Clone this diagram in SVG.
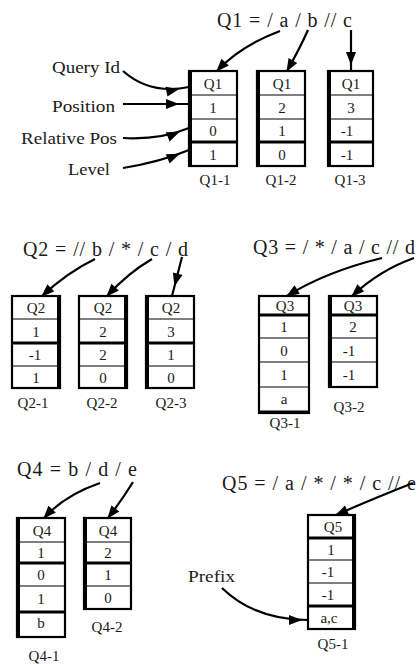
<svg xmlns="http://www.w3.org/2000/svg" width="417" height="664" viewBox="0 0 417 664" font-family="'Liberation Serif', 'DejaVu Serif', 'Times New Roman', serif">
<style>
text{font-family:'Liberation Serif','DejaVu Serif','Times New Roman',serif;fill:#1a1a1a}
.ti{font-size:20px}
.lg{font-size:17px}
.v{font-size:15px;text-anchor:middle}
.lb{font-size:15px;text-anchor:middle}
.box{fill:#fff;stroke:#000;stroke-width:2.2}
.sep{stroke:#000;stroke-width:1.2}
.sk{stroke:#000;stroke-width:3.2}
.sd{stroke:#000;stroke-width:4}
#connectors path{fill:none;stroke:#000;stroke-width:2.2}
</style>
<defs>
<marker id="ah" markerUnits="userSpaceOnUse" markerWidth="14" markerHeight="10" refX="12" refY="5" orient="auto" overflow="visible"><path d="M0,0 L13,5 L0,10 z"/></marker>
<marker id="ah6" markerUnits="userSpaceOnUse" markerWidth="20" markerHeight="10" refX="19" refY="5" orient="auto" overflow="visible"><path d="M0,0 L13,5 L0,10 z"/></marker>
<marker id="ah10" markerUnits="userSpaceOnUse" markerWidth="24" markerHeight="10" refX="23" refY="5" orient="auto" overflow="visible"><path d="M0,0 L13,5 L0,10 z"/></marker>
</defs>
<rect width="417" height="664" fill="#fff"/>

<!-- titles -->
<g id="q1-title"><text class="ti" x="217" y="27" textLength="135" lengthAdjust="spacing">Q1 = / a / b // c</text></g>
<g id="q2-title"><text class="ti" x="23" y="256" textLength="165" lengthAdjust="spacing">Q2 = // b / * / c / d</text></g>
<g id="q3-title"><text class="ti" x="253" y="254" textLength="162" lengthAdjust="spacing">Q3 = / * / a / c // d</text></g>
<g id="q4-title"><text class="ti" x="17" y="476" textLength="120" lengthAdjust="spacing">Q4 = b / d / e</text></g>
<g id="q5-title"><text class="ti" x="222" y="490" textLength="194" lengthAdjust="spacing">Q5 = / a / * / * / c // e</text></g>

<!-- legend labels -->
<g id="lbl-queryid"><text class="lg" x="52" y="73" textLength="68" lengthAdjust="spacingAndGlyphs">Query Id</text></g>
<g id="lbl-position"><text class="lg" x="52" y="112" textLength="63" lengthAdjust="spacingAndGlyphs">Position</text></g>
<g id="lbl-relpos"><text class="lg" x="21" y="144" textLength="96" lengthAdjust="spacingAndGlyphs">Relative Pos</text></g>
<g id="lbl-level"><text class="lg" x="68" y="175" textLength="42" lengthAdjust="spacingAndGlyphs">Level</text></g>
<g id="lbl-prefix"><text class="lg" x="188" y="582" textLength="47" lengthAdjust="spacingAndGlyphs">Prefix</text></g>

<!-- Q1-1 -->
<g id="q1-1">
<rect class="box" x="189" y="71" width="48" height="95"/>
<line class="sep" x1="189" y1="95" x2="237" y2="95"/>
<line class="sep" x1="189" y1="119" x2="237" y2="119"/>
<line class="sk" x1="189" y1="142" x2="237" y2="142"/>
<line class="sd" x1="190" y1="70" x2="190" y2="167"/>
<text class="v" x="213" y="88.5">Q1</text><text class="v" x="213" y="112.5">1</text><text class="v" x="213" y="136">0</text><text class="v" x="213" y="159.5">1</text>
<text class="lb" x="215" y="185">Q1-1</text>
</g>
<!-- Q1-2 -->
<g id="q1-2">
<rect class="box" x="257" y="71" width="48" height="95"/>
<line class="sep" x1="257" y1="95" x2="305" y2="95"/>
<line class="sep" x1="257" y1="119" x2="305" y2="119"/>
<line class="sk" x1="257" y1="142" x2="305" y2="142"/>
<line class="sd" x1="258" y1="70" x2="258" y2="167"/>
<text class="v" x="282" y="88.5">Q1</text><text class="v" x="282" y="112.5">2</text><text class="v" x="282" y="136">1</text><text class="v" x="282" y="159.5">0</text>
<text class="lb" x="281" y="185">Q1-2</text>
</g>
<!-- Q1-3 -->
<g id="q1-3">
<rect class="box" x="328" y="71" width="45" height="95"/>
<line class="sep" x1="328" y1="95" x2="373" y2="95"/>
<line class="sep" x1="328" y1="119" x2="373" y2="119"/>
<line class="sk" x1="328" y1="142" x2="373" y2="142"/>
<line class="sd" x1="329" y1="70" x2="329" y2="167"/>
<text class="v" x="351" y="88.5">Q1</text><text class="v" x="351" y="112.5">3</text><text class="v" x="347" y="136">-1</text><text class="v" x="347" y="159.5">-1</text>
<text class="lb" x="350" y="185">Q1-3</text>
</g>

<!-- Q2-1 -->
<g id="q2-1">
<rect class="box" x="12" y="296" width="48" height="92"/>
<line class="sep" x1="12" y1="319" x2="60" y2="319"/>
<line class="sk" x1="12" y1="343" x2="60" y2="343"/>
<line class="sep" x1="12" y1="366" x2="60" y2="366"/>
<line class="sd" x1="59" y1="295" x2="59" y2="389"/>
<text class="v" x="36" y="313">Q2</text><text class="v" x="36" y="336.5">1</text><text class="v" x="35" y="360">-1</text><text class="v" x="36" y="382.5">1</text>
<text class="lb" x="33" y="408">Q2-1</text>
</g>
<!-- Q2-2 -->
<g id="q2-2">
<rect class="box" x="79" y="296" width="48" height="92"/>
<line class="sep" x1="79" y1="319" x2="127" y2="319"/>
<line class="sk" x1="79" y1="343" x2="127" y2="343"/>
<line class="sep" x1="79" y1="366" x2="127" y2="366"/>
<line class="sd" x1="126" y1="295" x2="126" y2="389"/>
<text class="v" x="103" y="313">Q2</text><text class="v" x="103" y="336.5">2</text><text class="v" x="103" y="360">2</text><text class="v" x="103" y="382.5">0</text>
<text class="lb" x="102" y="408">Q2-2</text>
</g>
<!-- Q2-3 -->
<g id="q2-3">
<rect class="box" x="146" y="296" width="48" height="92"/>
<line class="sep" x1="146" y1="319" x2="194" y2="319"/>
<line class="sk" x1="146" y1="343" x2="194" y2="343"/>
<line class="sep" x1="146" y1="366" x2="194" y2="366"/>
<line class="sd" x1="147" y1="295" x2="147" y2="389"/>
<text class="v" x="171" y="313">Q2</text><text class="v" x="171" y="336.5">3</text><text class="v" x="171" y="360">1</text><text class="v" x="171" y="382.5">0</text>
<text class="lb" x="171" y="408">Q2-3</text>
</g>

<!-- Q3-1 -->
<g id="q3-1">
<rect class="box" x="259" y="296" width="50" height="117"/>
<line class="sk" x1="259" y1="315" x2="309" y2="315"/>
<line class="sep" x1="259" y1="338" x2="309" y2="338"/>
<line class="sep" x1="259" y1="362" x2="309" y2="362"/>
<line class="sep" x1="259" y1="387" x2="309" y2="387"/>
<line class="sk" x1="258" y1="412" x2="310" y2="412"/>
<text class="v" x="285" y="311">Q3</text><text class="v" x="284" y="332">1</text><text class="v" x="284" y="355.5">0</text><text class="v" x="284" y="380">1</text><text class="v" x="284" y="404">a</text>
<text class="lb" x="285" y="428">Q3-1</text>
</g>
<!-- Q3-2 -->
<g id="q3-2">
<rect class="box" x="329" y="296" width="48" height="91"/>
<line class="sk" x1="329" y1="315" x2="377" y2="315"/>
<line class="sep" x1="329" y1="338" x2="377" y2="338"/>
<line class="sep" x1="329" y1="362" x2="377" y2="362"/>
<line class="sd" x1="330" y1="295" x2="330" y2="388"/>
<text class="v" x="353" y="311">Q3</text><text class="v" x="353" y="332">2</text><text class="v" x="349" y="355.5">-1</text><text class="v" x="349" y="380">-1</text>
<text class="lb" x="349" y="412">Q3-2</text>
</g>

<!-- Q4-1 -->
<g id="q4-1">
<rect class="box" x="17" y="518" width="48" height="119"/>
<line class="sep" x1="17" y1="542" x2="65" y2="542"/>
<line class="sk" x1="17" y1="563" x2="65" y2="563"/>
<line class="sep" x1="17" y1="586" x2="65" y2="586"/>
<line class="sk" x1="17" y1="612" x2="65" y2="612"/>
<line class="sd" x1="18" y1="517" x2="18" y2="638"/>
<text class="v" x="42" y="535.5">Q4</text><text class="v" x="41" y="558">1</text><text class="v" x="41" y="580">0</text><text class="v" x="41" y="604">1</text><text class="v" x="41" y="628">b</text>
<text class="lb" x="44" y="661">Q4-1</text>
</g>
<!-- Q4-2 -->
<g id="q4-2">
<rect class="box" x="84" y="518" width="47" height="91"/>
<line class="sep" x1="84" y1="542" x2="131" y2="542"/>
<line class="sk" x1="84" y1="563" x2="131" y2="563"/>
<line class="sep" x1="84" y1="586" x2="131" y2="586"/>
<line class="sd" x1="85" y1="517" x2="85" y2="610"/>
<text class="v" x="108" y="535.5">Q4</text><text class="v" x="108" y="558">2</text><text class="v" x="108" y="580">1</text><text class="v" x="108" y="603">0</text>
<text class="lb" x="107" y="632">Q4-2</text>
</g>

<!-- Q5-1 -->
<g id="q5-1">
<rect class="box" x="308" y="515" width="47" height="114"/>
<line class="sk" x1="308" y1="538" x2="355" y2="538"/>
<line class="sep" x1="308" y1="560" x2="355" y2="560"/>
<line class="sep" x1="308" y1="583" x2="355" y2="583"/>
<line class="sk" x1="308" y1="606" x2="355" y2="606"/>
<line class="sd" x1="354" y1="514" x2="354" y2="630"/>
<text class="v" x="333" y="532">Q5</text><text class="v" x="331" y="554.5">1</text><text class="v" x="328" y="577">-1</text><text class="v" x="328" y="600">-1</text><text class="v" x="329" y="622.5">a,c</text>
<text class="lb" x="333" y="649">Q5-1</text>
</g>

<g id="connectors">
<path d="M123,71 Q150,95 189,87" marker-end="url(#ah10)"/>
<path d="M123,104 L189,104" marker-end="url(#ah10)"/>
<path d="M123,138 Q160,140 189,128" marker-end="url(#ah10)"/>
<path d="M123,168 Q160,162 189,150" marker-end="url(#ah10)"/>
<path d="M280,31 Q240,46 217,71" marker-end="url(#ah)"/>
<path d="M308,30 Q300,48 287,71" marker-end="url(#ah)"/>
<path d="M351,30 L351,71" marker-end="url(#ah6)"/>
<path d="M95,259 Q68,272 42,296" marker-end="url(#ah)"/>
<path d="M152,259 Q128,273 107,296" marker-end="url(#ah)"/>
<path d="M182,257 L172,296" marker-end="url(#ah10)"/>
<path d="M382,258 Q325,272 287,296" marker-end="url(#ah)"/>
<path d="M414,258 Q380,270 352,296" marker-end="url(#ah)"/>
<path d="M100,483 Q65,495 44,518" marker-end="url(#ah)"/>
<path d="M133,482 Q122,500 108,518" marker-end="url(#ah)"/>
<path d="M413,483 Q370,500 336,515" marker-end="url(#ah)"/>
<path d="M222,588 Q255,620 308,620" marker-end="url(#ah6)"/>
</g>
</svg>
